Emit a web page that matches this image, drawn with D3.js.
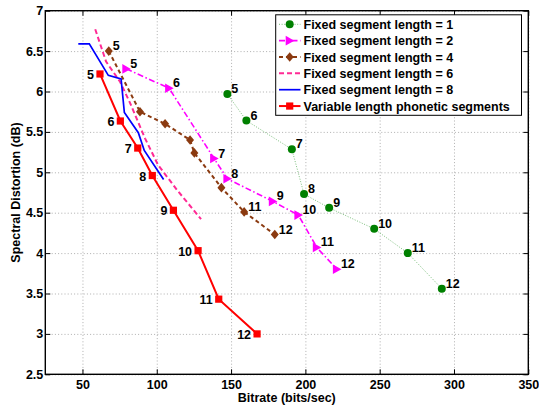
<!DOCTYPE html>
<html><head><meta charset="utf-8">
<script src="https://cdn.jsdelivr.net/npm/d3@7"></script>
<style>
body{margin:0;background:#fff;}
svg{display:block;font-family:"Liberation Sans",Arial,Helvetica,sans-serif;font-weight:bold;}
</style></head>
<body><svg id="c" width="539" height="405"></svg>
<script>
// ---- data ----
const rates = [5,6,7,8,9,10,11,12];
const len1X = [147.5,160.3,190.9,199.1,216.0,246.3,268.9,291.8];
const len1Y = [5.97,5.64,5.285,4.73,4.56,4.30,4.00,3.56];
const len2X = [79.5,108.3,138.6,147.5,178.1,195.3,207.7,221.2];
const len2Y = [6.28,6.04,5.17,4.92,4.64,4.47,4.07,3.80];
const len4X = [67.7,88.7,105.6,122.4,125.3,143.5,158.8,179.4];
const len4Y = [6.50,5.75,5.60,5.40,5.24,4.81,4.51,4.23];
const len6X = [58.6,65.9,75.3,82.0,92.1,100.9,113.7,129.8];
const len6Y = [6.77,6.37,6.12,5.86,5.42,5.09,4.78,4.42];
const len8X = [47.2,54.6,67.4,76.0,78.2,87.6,91.6,104.6];
const len8Y = [6.59,6.59,6.20,6.155,5.74,5.49,5.27,4.91];
const varX  = [61.8,75.5,87.2,97.0,111.2,127.8,141.7,167.5];
const varY  = [6.217,5.635,5.30,4.96,4.53,4.03,3.43,3.00];
const len4Labels = [5,11,12];
const xTicks = [50,100,150,200,250,300,350];
const yTicks = [2.5,3,3.5,4,4.5,5,5.5,6,6.5,7];
const legendLabels = ["Fixed segment length = 1","Fixed segment length = 2","Fixed segment length = 4","Fixed segment length = 6","Fixed segment length = 8","Variable length phonetic segments"];

// ---- layout ----
const L=45.3, R=528.3, T=10.7, B=374.3;
const FS = "12.5px";
const x = d3.scaleLinear().domain([25,350]).range([L,R]);
const y = d3.scaleLinear().domain([2.5,7]).range([B,T]);
const svg = d3.select("#c");

// grid
const grid = svg.append("g");
grid.append("g").attr("transform",`translate(0,${B})`)
  .call(d3.axisBottom(x).tickValues(xTicks).tickSize(-(B-T)).tickFormat(""))
  .call(g=>{g.select(".domain").remove();g.selectAll("line").attr("stroke","#9a9a9a").attr("stroke-width",0.8).attr("stroke-dasharray","1,2.2");});
grid.append("g").attr("transform",`translate(${L},0)`)
  .call(d3.axisLeft(y).tickValues(yTicks).tickSize(-(R-L)).tickFormat(""))
  .call(g=>{g.select(".domain").remove();g.selectAll("line").attr("stroke","#9a9a9a").attr("stroke-width",0.8).attr("stroke-dasharray","1,2.2");});

// axes
function styleAxis(g){
  g.select(".domain").remove();
  g.selectAll("line").attr("stroke","#000").attr("stroke-width",1);
  g.selectAll("text").attr("fill","#000").style("font-size",FS).style("font-weight","bold").attr("font-family",null);
}
svg.append("g").attr("transform",`translate(0,${B})`)
  .call(d3.axisBottom(x).tickValues(xTicks).tickSizeInner(-5).tickSizeOuter(0).tickPadding(5.5).tickFormat(d3.format("~g"))).call(styleAxis);
svg.append("g").attr("transform",`translate(0,${T})`)
  .call(d3.axisTop(x).tickValues(xTicks).tickSizeInner(-5).tickSizeOuter(0).tickFormat("")).call(styleAxis);
svg.append("g").attr("transform",`translate(${L},0)`)
  .call(d3.axisLeft(y).tickValues(yTicks).tickSizeInner(-5).tickSizeOuter(0).tickPadding(2).tickFormat(d3.format("~g"))).call(styleAxis);
svg.append("g").attr("transform",`translate(${R},0)`)
  .call(d3.axisRight(y).tickValues(yTicks).tickSizeInner(-5).tickSizeOuter(0).tickFormat("")).call(styleAxis);
svg.append("rect").attr("x",L).attr("y",T).attr("width",R-L).attr("height",B-T)
  .attr("fill","none").attr("stroke","#000").attr("stroke-width",1.4);

// titles
svg.append("text").attr("x",(L+R)/2).attr("y",401.5).attr("text-anchor","middle").style("font-size",FS).text("Bitrate (bits/sec)");
svg.append("text").attr("transform",`translate(19.5,${(T+B)/2}) rotate(-90)`).attr("text-anchor","middle").style("font-size",FS).text("Spectral Distortion (dB)");

// series
const line = d3.line().x(d=>x(d[0])).y(d=>y(d[1]));
const zip = (xs,ys)=>xs.map((v,i)=>[v,ys[i]]);
const series = [
  {xs:len1X,ys:len1Y,color:"#7dbf7d",w:1,dash:"1,1.6",marker:"circle",mcolor:"#008000"},
  {xs:len2X,ys:len2Y,color:"#ff00ff",w:1.6,dash:"6,2.5,1.5,2.5",marker:"tri",mcolor:"#ff00ff"},
  {xs:len4X,ys:len4Y,color:"#8b3a10",w:2,dash:"4,3",marker:"diamond",mcolor:"#8b3a10"},
  {xs:len6X,ys:len6Y,color:"#ff2a95",w:2,dash:"5,3",marker:null},
  {xs:len8X,ys:len8Y,color:"#0000ff",w:1.7,dash:null,marker:null},
  {xs:varX,ys:varY,color:"#ff0000",w:2,dash:null,marker:"square",mcolor:"#ff0000"}
];
const sym = {
  circle: d3.symbol().type(d3.symbolCircle).size(Math.PI*4.2*4.2),
  square: d3.symbol().type(d3.symbolSquare).size(50),
  diamond: null, tri: null
};
function drawMarker(g,type,cx,cy,color){
  if(type==="circle") g.append("circle").attr("cx",cx).attr("cy",cy).attr("r",4).attr("fill",color);
  else if(type==="square") g.append("rect").attr("x",cx-3.6).attr("y",cy-3.6).attr("width",7.2).attr("height",7.2).attr("fill",color);
  else if(type==="diamond") g.append("path").attr("d",`M${cx},${cy-4.8}L${cx+4},${cy}L${cx},${cy+4.8}L${cx-4},${cy}Z`).attr("fill",color);
  else if(type==="tri") g.append("path").attr("d",`M${cx-4},${cy-4.8}L${cx+4.6},${cy}L${cx-4},${cy+4.8}Z`).attr("fill",color);
}
const plot = svg.append("g");
series.forEach(s=>{
  const pts = zip(s.xs,s.ys);
  plot.append("path").attr("d",line(pts)).attr("fill","none").attr("stroke",s.color)
    .attr("stroke-width",s.w).attr("stroke-dasharray",s.dash);
  if(s.marker) pts.forEach(p=>drawMarker(plot,s.marker,x(p[0]),y(p[1]),s.mcolor));
});

// point labels
const lab = svg.append("g").style("font-size",FS);
function labelsRight(xs,ys,which){
  xs.forEach((v,i)=>{ if(which && !which.includes(rates[i])) return;
    lab.append("text").attr("x",x(v)+4).attr("y",y(ys[i])-1).text(rates[i]); });
}
labelsRight(len1X,len1Y);
labelsRight(len2X,len2Y);
labelsRight(len4X,len4Y,len4Labels);
varX.forEach((v,i)=>{
  lab.append("text").attr("x",x(v)-6).attr("y",y(varY[i])+5).attr("text-anchor","end").text(rates[i]);
});

// legend
const lg = svg.append("g");
lg.append("rect").attr("x",275.7).attr("y",14.8).attr("width",245.8).attr("height",100.5)
  .attr("fill","#fff").attr("stroke","#000").attr("stroke-width",1);
series.forEach((s,i)=>{
  const cy = 24.3 + i*16.35;
  lg.append("line").attr("x1",279).attr("x2",300.5).attr("y1",cy).attr("y2",cy)
    .attr("stroke",s.color).attr("stroke-width",s.w).attr("stroke-dasharray",s.dash);
  if(s.marker) drawMarker(lg,s.marker,289.7,cy,s.mcolor);
  lg.append("text").attr("x",303.5).attr("y",cy).attr("dy","0.36em").style("font-size",FS).text(legendLabels[i]);
});
</script></body></html>
